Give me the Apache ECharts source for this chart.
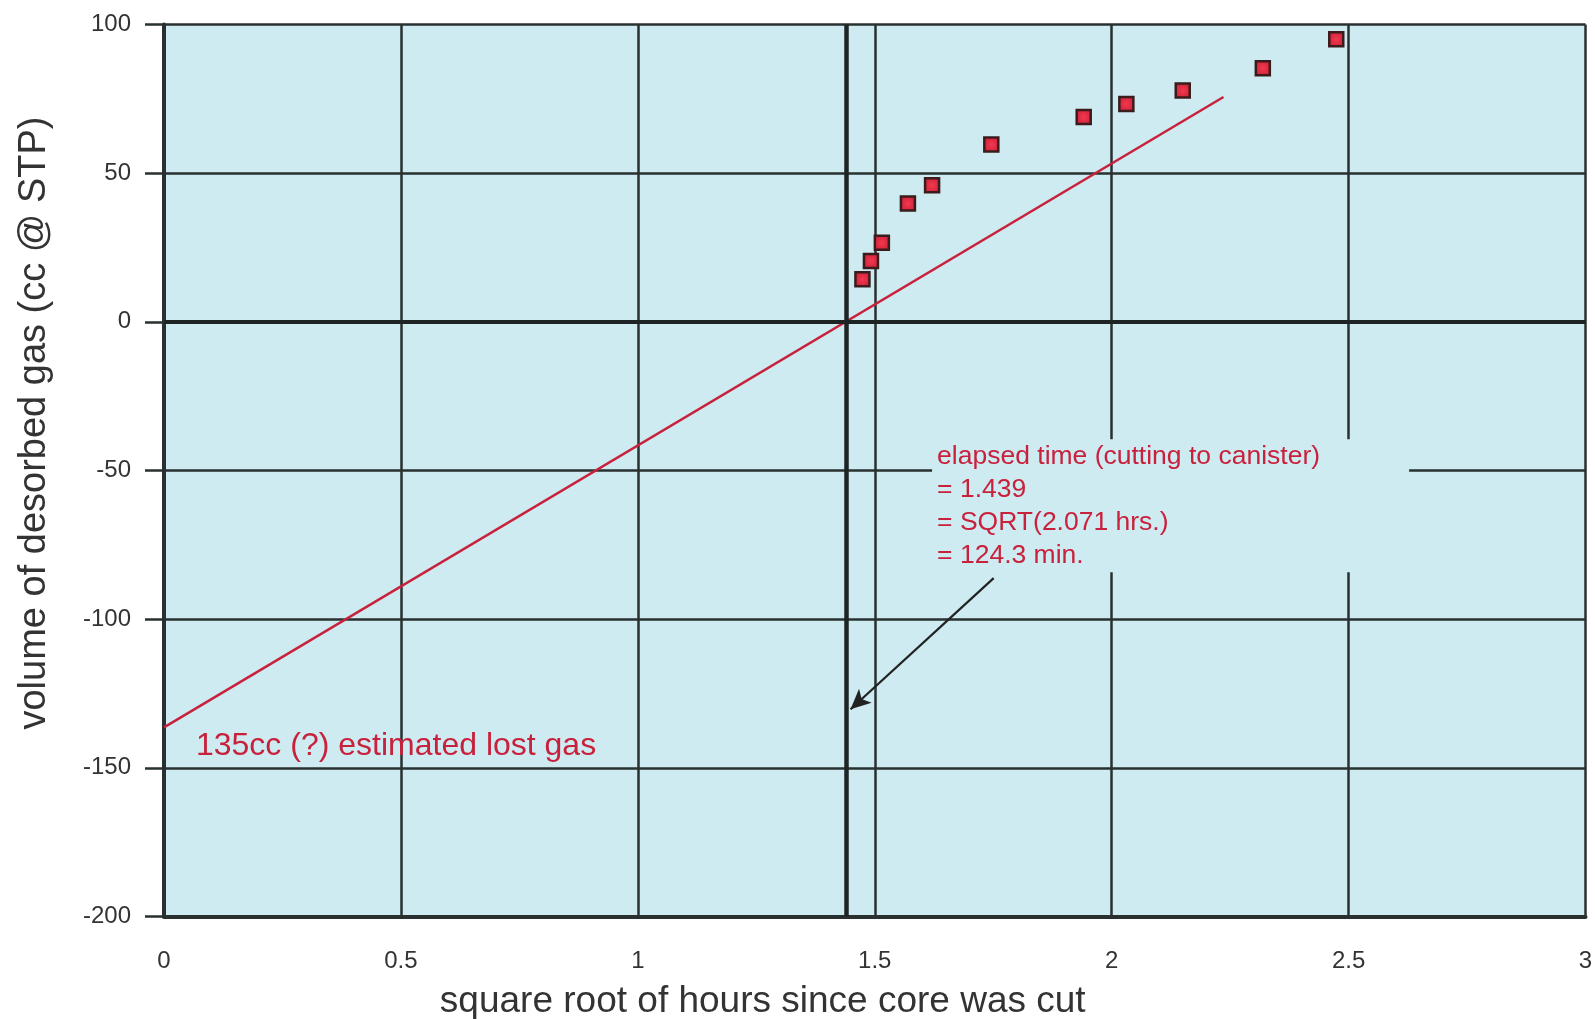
<!DOCTYPE html>
<html><head><meta charset="utf-8">
<script src="https://cdn.jsdelivr.net/npm/echarts@6/dist/echarts.min.js"></script>
<style>html,body{margin:0;padding:0;background:#fff}#c{width:1595px;height:1019px}</style>
</head><body><div id="c"></div>
<script>
// ---- data ----
const sqrtHours   = [1.474, 1.492, 1.515, 1.570, 1.621, 1.746, 1.941, 2.031, 2.150, 2.319, 2.474];
const desorbedGas = [14.3, 20.5, 26.6, 39.8, 45.9, 59.6, 68.9, 73.3, 77.8, 85.3, 95.0];
const fitLineX = [0, 2.236];
const fitLineY = [-136.4, 75.6];
const cutLineX = 1.443;
const arrowFrom = [1.751, -86.2];
const arrowTo   = [1.449, -130.3];
const noteAnchor = [1.621, -39.5];
const noteLines = ['elapsed time (cutting to canister)', '= 1.439', '= SQRT(2.071 hrs.)', '= 124.3 min.'];
const lostAnchor = [0.0675, -142.7];
const lostText = '135cc (?) estimated lost gas';
const xAxisName = 'square root of hours since core was cut';
const yAxisName = 'volume of desorbed gas (cc @ STP)';

const FONT = '"Liberation Sans", Arial, Helvetica, sans-serif';
const RED = '#c8213c';
const GRID = '#283030';
const BG = '#cfebf2';

const chart = echarts.init(document.getElementById('c'));
chart.setOption({
  animation: false,
  backgroundColor: '#ffffff',
  textStyle: { fontFamily: FONT },
  grid: { left: 164, right: 9.5, top: 24.5, bottom: 102.5, show: true, backgroundColor: BG, borderWidth: 0,
          containLabel: false, outerBoundsMode: 'none' },
  xAxis: {
    type: 'value', min: 0, max: 3, interval: 0.5,
    name: xAxisName, nameLocation: 'middle', nameGap: 67,
    nameTextStyle: { fontSize: 37, color: '#333', fontFamily: FONT, padding: [0, 224, 0, 0] },
    axisLine: { show: true, onZero: false, lineStyle: { color: GRID, width: 4 } },
    axisTick: { show: false },
    axisLabel: { fontSize: 24, color: '#333', margin: 33, fontFamily: FONT },
    splitLine: { show: true, lineStyle: { color: GRID, width: 2.5 } }
  },
  yAxis: {
    type: 'value', min: -200, max: 100, interval: 50,
    name: yAxisName, nameLocation: 'middle', nameGap: 110, nameRotate: 90,
    nameTextStyle: { fontSize: 38, color: '#333', fontFamily: FONT, padding: [0, 0, 0, 95] },
    axisLine: { show: true, onZero: false, lineStyle: { color: GRID, width: 4 } },
    axisTick: { show: true, inside: false, length: 19, lineStyle: { color: GRID, width: 2.5 } },
    axisLabel: { fontSize: 24, color: '#333', margin: 33, fontFamily: FONT },
    splitLine: { show: true, lineStyle: { color: GRID, width: 2.5 } }
  },
  series: [
    {
      type: 'line', name: 'fit', data: fitLineX.map((x, i) => [x, fitLineY[i]]),
      symbol: 'none', lineStyle: { color: RED, width: 2.5 }, z: 3,
      markLine: {
        silent: true, symbol: ['none', 'none'], label: { show: false },
        data: [
          { xAxis: cutLineX, lineStyle: { color: '#1e2424', width: 4.5, type: 'solid' } },
          { yAxis: 0, lineStyle: { color: '#1e2424', width: 4, type: 'solid' } }
        ]
      }
    },
    {
      type: 'line', name: 'arrow', data: [], z: 4,
      markLine: {
        silent: true, symbol: ['none', 'arrow'], symbolSize: [14, 20], label: { show: false },
        lineStyle: { color: '#222', width: 2.2, type: 'solid' },
        data: [[{ coord: arrowFrom }, { coord: arrowTo }]]
      }
    },
    {
      type: 'scatter', name: 'note', data: [noteAnchor], symbolSize: 0, z: 5,
      itemStyle: { opacity: 1 },
      label: {
        show: true, position: [0, 0], align: 'left', verticalAlign: 'top', opacity: 1,
        formatter: noteLines.join('\n'), fontSize: 26.5, lineHeight: 33, color: RED, fontFamily: FONT,
        backgroundColor: BG, padding: [1, 0, 0, 5], width: 472
      }
    },
    {
      type: 'scatter', name: 'lost', data: [lostAnchor], symbolSize: 0, z: 5,
      itemStyle: { opacity: 1 },
      label: {
        show: true, position: [0, 0], align: 'left', verticalAlign: 'middle', opacity: 1,
        formatter: lostText, fontSize: 32, color: RED, fontFamily: FONT
      }
    },
    {
      type: 'scatter', name: 'desorbed', z: 6,
      data: sqrtHours.map((x, i) => [x, desorbedGas[i]]),
      symbol: 'rect', symbolSize: 14,
      itemStyle: {
        color: new echarts.graphic.RadialGradient(0.5, 0.5, 0.7, [
          { offset: 0, color: '#f2384e' }, { offset: 1, color: '#c41a33' }
        ]),
        borderColor: '#3a1c1c', borderWidth: 2.5, opacity: 1
      }
    }
  ]
});
</script></body></html>
